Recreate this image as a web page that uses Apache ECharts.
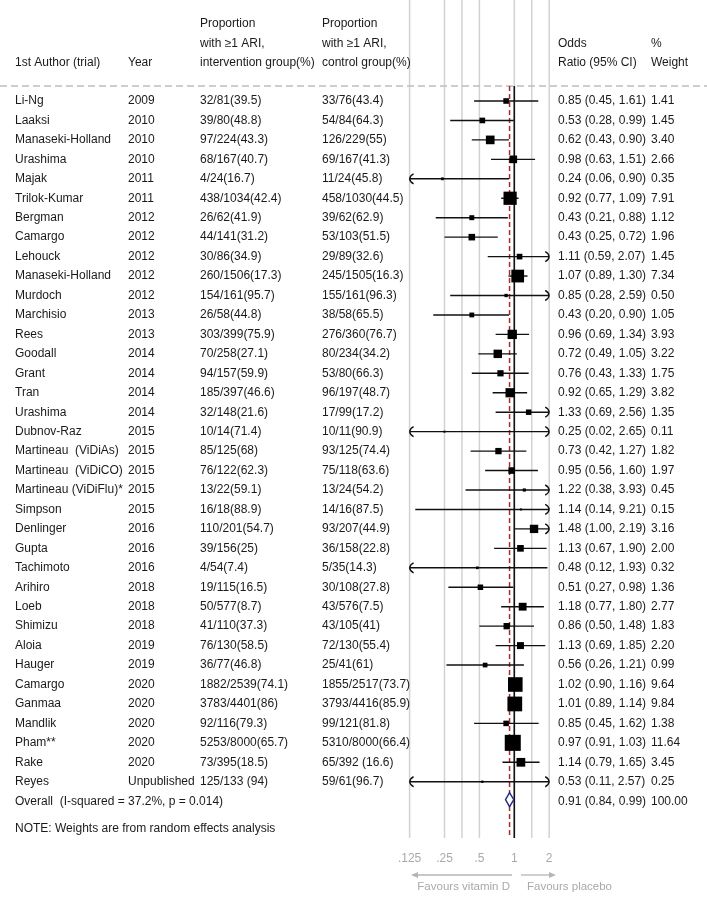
<!DOCTYPE html>
<html><head><meta charset="utf-8">
<script src="https://cdn.jsdelivr.net/npm/echarts@6/dist/echarts.min.js"></script>
<style>html,body{margin:0;padding:0;background:#fff}#c{width:707px;height:899px}</style>
</head><body><div id="c"></div>
<script>
// ---------------- data ----------------
const authors = ["Li-Ng","Laaksi","Manaseki-Holland","Urashima","Majak","Trilok-Kumar","Bergman","Camargo","Lehouck","Manaseki-Holland","Murdoch","Marchisio","Rees","Goodall","Grant","Tran","Urashima","Dubnov-Raz","Martineau  (ViDiAs)","Martineau  (ViDiCO)","Martineau (ViDiFlu)*","Simpson","Denlinger","Gupta","Tachimoto","Arihiro","Loeb","Shimizu","Aloia","Hauger","Camargo","Ganmaa","Mandlik","Pham**","Rake","Reyes"];
const years = ["2009","2010","2010","2010","2011","2011","2012","2012","2012","2012","2012","2013","2013","2014","2014","2014","2014","2015","2015","2015","2015","2015","2016","2016","2016","2018","2018","2018","2019","2019","2020","2020","2020","2020","2020","Unpublished"];
const interventionTxt = ["32/81(39.5)","39/80(48.8)","97/224(43.3)","68/167(40.7)","4/24(16.7)","438/1034(42.4)","26/62(41.9)","44/141(31.2)","30/86(34.9)","260/1506(17.3)","154/161(95.7)","26/58(44.8)","303/399(75.9)","70/258(27.1)","94/157(59.9)","185/397(46.6)","32/148(21.6)","10/14(71.4)","85/125(68)","76/122(62.3)","13/22(59.1)","16/18(88.9)","110/201(54.7)","39/156(25)","4/54(7.4)","19/115(16.5)","50/577(8.7)","41/110(37.3)","76/130(58.5)","36/77(46.8)","1882/2539(74.1)","3783/4401(86)","92/116(79.3)","5253/8000(65.7)","73/395(18.5)","125/133 (94)"];
const controlTxt = ["33/76(43.4)","54/84(64.3)","126/229(55)","69/167(41.3)","11/24(45.8)","458/1030(44.5)","39/62(62.9)","53/103(51.5)","29/89(32.6)","245/1505(16.3)","155/161(96.3)","38/58(65.5)","276/360(76.7)","80/234(34.2)","53/80(66.3)","96/197(48.7)","17/99(17.2)","10/11(90.9)","93/125(74.4)","75/118(63.6)","13/24(54.2)","14/16(87.5)","93/207(44.9)","36/158(22.8)","5/35(14.3)","30/108(27.8)","43/576(7.5)","43/105(41)","72/130(55.4)","25/41(61)","1855/2517(73.7)","3793/4416(85.9)","99/121(81.8)","5310/8000(66.4)","65/392 (16.6)","59/61(96.7)"];
const oddsRatio = [0.85,0.53,0.62,0.98,0.24,0.92,0.43,0.43,1.11,1.07,0.85,0.43,0.96,0.72,0.76,0.92,1.33,0.25,0.73,0.95,1.22,1.14,1.48,1.13,0.48,0.51,1.18,0.86,1.13,0.56,1.02,1.01,0.85,0.97,1.14,0.53];
const ciLow = [0.45,0.28,0.43,0.63,0.06,0.77,0.21,0.25,0.59,0.89,0.28,0.20,0.69,0.49,0.43,0.65,0.69,0.02,0.42,0.56,0.38,0.14,1.00,0.67,0.12,0.27,0.77,0.50,0.69,0.26,0.90,0.89,0.45,0.91,0.79,0.11];
const ciHigh = [1.61,0.99,0.90,1.51,0.90,1.09,0.88,0.72,2.07,1.30,2.59,0.90,1.34,1.05,1.33,1.29,2.56,2.65,1.27,1.60,3.93,9.21,2.19,1.90,1.93,0.98,1.80,1.48,1.85,1.21,1.16,1.14,1.62,1.03,1.65,2.57];
const weights = [1.41,1.45,3.40,2.66,0.35,7.91,1.12,1.96,1.45,7.34,0.50,1.05,3.93,3.22,1.75,3.82,1.35,0.11,1.82,1.97,0.45,0.15,3.16,2.00,0.32,1.36,2.77,1.83,2.20,0.99,9.64,9.84,1.38,11.64,3.45,0.25];
const overallEstimate = [0.91, 0.84, 0.99];
const overallWeight = 100;
const overallLabel = "Overall  (I-squared = 37.2%, p = 0.014)";
const noteText = "NOTE: Weights are from random effects analysis";
const xTicks = [0.125, 0.25, 0.5, 1, 2];
const gridLineValues = [0.125, 0.25, 0.3536, 0.5, 1, 1.414, 2];
const refValue = 1;

// ---------------- layout ----------------
const W = 707, H = 899, ROW0 = 101, ROWH = 19.45;
const row = px => (px - ROW0) / ROWH;
const XMIN = 0.125, XMAX = 2;
const FONT = '"Liberation Sans", Arial, Helvetica, sans-serif';
const TXT = '#1a1a1a', GRAY = '#a9a9a9';
const COL = {author: 15, year: 128, inter: 200, ctrl: 322, or: 558, wt: 651};
const nStudy = authors.length;
const overallRow = nStudy;
const plotTop = row(86), plotBottom = row(838);

const fmt2 = v => v.toFixed(2);
const orTxt = oddsRatio.map((v, i) => `${fmt2(v)} (${fmt2(ciLow[i])}, ${fmt2(ciHigh[i])})`);
const wtTxt = weights.map(fmt2);

function textSeries(x, rows, texts, opt = {}) {
  return {
    type: 'custom', xAxisIndex: 1, yAxisIndex: 1, clip: false, silent: true, z: 5,
    data: rows.map(r => [x, r]),
    renderItem: (params, api) => {
      const p = api.coord([api.value(0), api.value(1)]);
      return {type: 'text', style: {
        x: p[0], y: p[1], text: texts[params.dataIndex],
        fill: opt.color || TXT, fontSize: opt.size || 12, fontFamily: FONT,
        align: opt.align || 'left', verticalAlign: 'middle'}};
    }
  };
}
const studyRows = authors.map((_, i) => i);

const series = [];
// gridlines
series.push({
  type: 'custom', xAxisIndex: 0, yAxisIndex: 0, clip: false, silent: true, z: 1,
  data: gridLineValues.map(v => [v, 0]),
  renderItem: (params, api) => {
    const a = api.coord([api.value(0), row(0)]), b = api.coord([api.value(0), plotBottom]);
    return {type: 'line', shape: {x1: a[0], y1: a[1], x2: b[0], y2: b[1]},
      style: {stroke: '#d2d2d2', lineWidth: 1.5}};
  }
});
// header dashed separator
series.push({
  type: 'custom', xAxisIndex: 1, yAxisIndex: 1, clip: false, silent: true, z: 2,
  data: [[0, plotTop]],
  renderItem: (params, api) => {
    const a = api.coord([0, plotTop]), b = api.coord([W, plotTop]);
    return {type: 'line', shape: {x1: a[0], y1: a[1], x2: b[0], y2: b[1]},
      style: {stroke: '#bdbdbd', lineWidth: 1.5, lineDash: [7, 4]}};
  }
});
// reference line at 1 and overall dashed line
series.push({
  type: 'custom', xAxisIndex: 0, yAxisIndex: 0, clip: false, silent: true, z: 3,
  data: [[refValue, 0], [overallEstimate[0], 1]],
  renderItem: (params, api) => {
    const a = api.coord([api.value(0), plotTop]), b = api.coord([api.value(0), plotBottom]);
    const red = params.dataIndex === 1;
    return {type: 'line', shape: {x1: a[0], y1: a[1], x2: b[0], y2: b[1]},
      style: red ? {stroke: '#a82a2a', lineWidth: 1.5, lineDash: [5, 3]} : {stroke: '#111', lineWidth: 1.6}};
  }
});
// confidence intervals + weighted squares
series.push({
  type: 'custom', xAxisIndex: 0, yAxisIndex: 0, clip: false, silent: true, z: 4,
  data: oddsRatio.map((v, i) => [v, i]),
  renderItem: (params, api) => {
    const i = params.dataIndex;
    const lo = Math.max(ciLow[i], XMIN), hi = Math.min(ciHigh[i], XMAX);
    const pl = api.coord([lo, i]), ph = api.coord([hi, i]), pc = api.coord([oddsRatio[i], i]);
    const y = pc[1];
    const kids = [{type: 'line', shape: {x1: pl[0], y1: y, x2: ph[0], y2: y}, style: {stroke: '#111', lineWidth: 1.4}}];
    if (ciLow[i] < XMIN) {
      const x = pl[0];
      kids.push({type: 'bezierCurve', shape: {x1: x, y1: y, x2: x + 4, y2: y - 5, cpx1: x + 0.6, cpy1: y - 3.5}, style: {stroke: '#111', lineWidth: 1.4, fill: null}});
      kids.push({type: 'bezierCurve', shape: {x1: x, y1: y, x2: x + 4, y2: y + 5, cpx1: x + 0.6, cpy1: y + 3.5}, style: {stroke: '#111', lineWidth: 1.4, fill: null}});
    }
    if (ciHigh[i] > XMAX) {
      const x = ph[0];
      kids.push({type: 'bezierCurve', shape: {x1: x, y1: y, x2: x - 4, y2: y - 5, cpx1: x - 0.6, cpy1: y - 3.5}, style: {stroke: '#111', lineWidth: 1.4, fill: null}});
      kids.push({type: 'bezierCurve', shape: {x1: x, y1: y, x2: x - 4, y2: y + 5, cpx1: x - 0.6, cpy1: y + 3.5}, style: {stroke: '#111', lineWidth: 1.4, fill: null}});
    }
    const s = Math.max(4.7 * Math.sqrt(weights[i]), 2);
    kids.push({type: 'rect', shape: {x: pc[0] - s / 2, y: y - s / 2, width: s, height: s}, style: {fill: '#000'}});
    return {type: 'group', children: kids};
  }
});
// overall diamond
series.push({
  type: 'custom', xAxisIndex: 0, yAxisIndex: 0, clip: false, silent: true, z: 6,
  data: [[overallEstimate[0], overallRow]],
  renderItem: (params, api) => {
    const pc = api.coord([overallEstimate[0], overallRow]);
    const pl = api.coord([overallEstimate[1], overallRow]), ph = api.coord([overallEstimate[2], overallRow]);
    const y = pc[1] - 1.5, h = 7;
    return {type: 'polygon', shape: {points: [[pl[0], y], [pc[0], y - h], [ph[0], y], [pc[0], y + h]]},
      style: {fill: '#fff', stroke: '#1c2a8c', lineWidth: 1.4}};
  }
});
// x tick labels
series.push({
  type: 'custom', xAxisIndex: 0, yAxisIndex: 0, clip: false, silent: true, z: 5,
  data: xTicks.map(v => [v, row(859)]),
  renderItem: (params, api) => {
    const v = api.value(0);
    const p = api.coord([v, api.value(1)]);
    const t = v < 1 ? String(v).replace(/^0/, '') : String(v);
    return {type: 'text', style: {x: p[0], y: p[1], text: t, fill: GRAY, fontSize: 12, fontFamily: FONT, align: 'center', verticalAlign: 'middle'}};
  }
});
// favours arrows
series.push({
  type: 'custom', xAxisIndex: 1, yAxisIndex: 1, clip: false, silent: true, z: 5,
  data: [[512, 411], [521, 556]],
  renderItem: (params, api) => {
    const y = row(875);
    const a = api.coord([api.value(0), y]), b = api.coord([api.value(1), y]);
    const dir = b[0] > a[0] ? 1 : -1;
    return {type: 'group', children: [
      {type: 'line', shape: {x1: a[0], y1: a[1], x2: b[0] - dir * 5, y2: b[1]}, style: {stroke: '#b5b5b5', lineWidth: 1.3}},
      {type: 'polygon', shape: {points: [[b[0], b[1]], [b[0] - dir * 7, b[1] - 3], [b[0] - dir * 7, b[1] + 3]]}, style: {fill: '#b5b5b5'}}
    ]};
  }
});
// header texts
series.push(textSeries(COL.author, [row(62.7)], ["1st Author (trial)"]));
series.push(textSeries(COL.year, [row(62.7)], ["Year"]));
series.push(textSeries(COL.inter, [row(24), row(43.3), row(62.7)], ["Proportion", "with \u22651 ARI,", "intervention group(%)"]));
series.push(textSeries(COL.ctrl, [row(24), row(43.3), row(62.7)], ["Proportion", "with \u22651 ARI,", "control group(%)"]));
series.push(textSeries(COL.or, [row(43.3), row(62.7)], ["Odds", "Ratio (95% CI)"]));
series.push(textSeries(COL.wt, [row(43.3), row(62.7)], ["%", "Weight"]));
// table columns
series.push(textSeries(COL.author, studyRows, authors));
series.push(textSeries(COL.year, studyRows, years));
series.push(textSeries(COL.inter, studyRows, interventionTxt));
series.push(textSeries(COL.ctrl, studyRows, controlTxt));
series.push(textSeries(COL.or, studyRows, orTxt));
series.push(textSeries(COL.wt, studyRows, wtTxt));
// overall row
series.push(textSeries(COL.author, [overallRow], [overallLabel]));
series.push(textSeries(COL.or, [overallRow], [`${fmt2(overallEstimate[0])} (${fmt2(overallEstimate[1])}, ${fmt2(overallEstimate[2])})`]));
series.push(textSeries(COL.wt, [overallRow], [overallWeight.toFixed(2)]));
series.push(textSeries(COL.author, [row(829)], [noteText]));
// favours labels
series.push(textSeries(510, [row(887)], ["Favours vitamin D"], {color: GRAY, size: 11.5, align: 'right'}));
series.push(textSeries(527, [row(887)], ["Favours placebo"], {color: GRAY, size: 11.5}));

const chart = echarts.init(document.getElementById('c'), null, {renderer: 'canvas'});
chart.setOption({
  animation: false,
  backgroundColor: '#fff',
  grid: [
    {left: 409.6, top: 0, width: 139.6, height: H},
    {left: 0, top: 0, width: W, height: H}
  ],
  xAxis: [
    {type: 'log', logBase: 2, min: XMIN, max: XMAX, gridIndex: 0, show: false},
    {type: 'value', min: 0, max: W, gridIndex: 1, show: false}
  ],
  yAxis: [
    {type: 'value', inverse: true, min: row(0), max: row(H), gridIndex: 0, show: false},
    {type: 'value', inverse: true, min: row(0), max: row(H), gridIndex: 1, show: false}
  ],
  series: series
});
</script>
</body></html>
